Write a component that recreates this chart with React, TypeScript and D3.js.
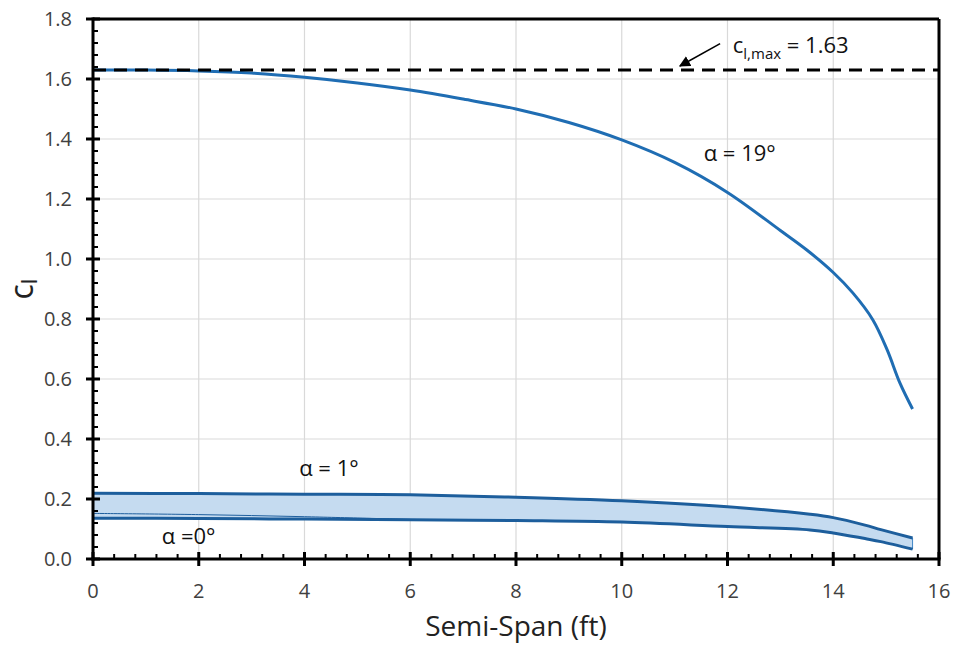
import React from "react";
import * as d3 from "d3";

const xTicks = [0, 2, 4, 6, 8, 10, 12, 14, 16];
const yTicks = [0, 0.2, 0.4, 0.6, 0.8, 1.0, 1.2, 1.4, 1.6, 1.8];

const a19X = [0, 1, 2, 3, 4, 5, 6, 7, 8, 9, 10, 11, 12, 13, 13.5, 14, 14.37, 14.75, 15.02, 15.26, 15.5];
const a19Y = [1.63, 1.63, 1.627, 1.62, 1.606, 1.587, 1.563, 1.533, 1.5, 1.455, 1.397, 1.322, 1.222, 1.095, 1.03, 0.955, 0.887, 0.797, 0.697, 0.587, 0.5];

const bandX = [0, 2, 4, 6, 8, 10, 12, 13.56, 14, 14.6, 14.9, 15.5];
const a1Y = [0.219, 0.218, 0.216, 0.214, 0.206, 0.194, 0.174, 0.149, 0.138, 0.113, 0.098, 0.07];
const a0Y = [0.136, 0.135, 0.133, 0.131, 0.128, 0.123, 0.108, 0.097, 0.087, 0.068, 0.058, 0.033];

const thinX = [0, 2, 4, 6];
const thinY = [0.152, 0.148, 0.141, 0.132];

const clMax = 1.63;

const W = 954;
const H = 647;
const M = { left: 93, right: 939, top: 19, bottom: 559 };
const FONT = "'Open Sans', sans-serif";

export default function App() {
  const x = d3.scaleLinear().domain([0, 16]).range([M.left, M.right]);
  const y = d3.scaleLinear().domain([0, 1.8]).range([M.bottom, M.top]);

  const line = d3
    .line<[number, number]>()
    .x((d) => x(d[0]))
    .y((d) => y(d[1]))
    .curve(d3.curveCatmullRom.alpha(0.5));

  const a19 = a19X.map((v, i) => [v, a19Y[i]] as [number, number]);
  const a1 = bandX.map((v, i) => [v, a1Y[i]] as [number, number]);
  const a0 = bandX.map((v, i) => [v, a0Y[i]] as [number, number]);
  const thin = thinX.map((v, i) => [v, thinY[i]] as [number, number]);

  const area = d3
    .area<number>()
    .x((_, i) => x(bandX[i]))
    .y0((_, i) => y(a0Y[i]))
    .y1((_, i) => y(a1Y[i]))
    .curve(d3.curveCatmullRom.alpha(0.5));

  const xMinor = d3.range(0, 16.001, 0.4).filter((v) => Math.abs(v / 2 - Math.round(v / 2)) > 1e-6);
  const yMinor = d3.range(0, 1.8001, 0.04).filter((v) => Math.abs(v / 0.2 - Math.round(v / 0.2)) > 1e-6);

  const ax1 = x(11.1), ay1 = y(clMax) - 4;
  const ax0 = x(11.86), ay0 = y(1.718);

  return (
    <svg width={W} height={H} style={{ position: "absolute", left: 0, top: 0, background: "#fff" }} fontFamily={FONT}>
      <defs>
        <marker id="arr" viewBox="0 0 10 10" refX="9" refY="5" markerWidth="7" markerHeight="7" orient="auto-start-reverse">
          <path d="M0,0 L10,5 L0,10 z" fill="#000" />
        </marker>
      </defs>
      {/* grid */}
      {xTicks.slice(1, -1).map((t) => (
        <line key={"gx" + t} x1={x(t)} x2={x(t)} y1={M.top} y2={M.bottom} stroke="#d9d9d9" strokeWidth={1.2} />
      ))}
      {yTicks.slice(1, -1).map((t) => (
        <line key={"gy" + t} x1={M.left} x2={M.right} y1={y(t)} y2={y(t)} stroke="#d9d9d9" strokeWidth={1.2} />
      ))}

      {/* band */}
      <path d={area(bandX) || ""} fill="#c5dbf0" stroke="#3f86c6" strokeWidth={1} />
      <path d={line(thin) || ""} fill="none" stroke="#1f5f9e" strokeWidth={1} />
      <path d={line(a1) || ""} fill="none" stroke="#1d5e9c" strokeWidth={3} />
      <path d={line(a0) || ""} fill="none" stroke="#1d5e9c" strokeWidth={3} />

      {/* alpha 19 */}
      <path d={line(a19) || ""} fill="none" stroke="#1f6db3" strokeWidth={3} />

      {/* cl max dashed */}
      <line x1={M.left} x2={M.right} y1={y(clMax)} y2={y(clMax)} stroke="#000" strokeWidth={3} strokeDasharray="13 8" />
      <line x1={ax0} y1={ay0} x2={ax1} y2={ay1} stroke="#000" strokeWidth={1.6} markerEnd="url(#arr)" />
      <text x={x(12.1)} y={53} fontSize={22} fill="#111">
        c
        <tspan fontSize={15} dy={6}>l,max</tspan>
        <tspan dy={-6}> = 1.63</tspan>
      </text>

      {/* labels */}
      <text x={x(11.55)} y={161} fontSize={22} fill="#111">α = 19°</text>
      <text x={x(3.9)} y={476} fontSize={22} fill="#111">α = 1°</text>
      <text x={x(1.3)} y={544} fontSize={22} fill="#111">α =0°</text>

      {/* frame */}
      <line x1={M.left} x2={M.right} y1={M.top} y2={M.top} stroke="#000" strokeWidth={3} />
      <line x1={M.right} x2={M.right} y1={M.top} y2={M.bottom} stroke="#000" strokeWidth={3} />
      <line x1={M.left} x2={M.left} y1={M.top - 1.5} y2={M.bottom + 1.5} stroke="#000" strokeWidth={3} />
      <line x1={M.left - 1.5} x2={M.right + 1.5} y1={M.bottom} y2={M.bottom} stroke="#000" strokeWidth={3} />

      {/* ticks */}
      {yTicks.map((t) => (
        <line key={"ty" + t} x1={M.left - 7} x2={M.left + 7} y1={y(t)} y2={y(t)} stroke="#000" strokeWidth={3} />
      ))}
      {yMinor.map((t) => (
        <line key={"tym" + t} x1={M.left} x2={M.left + 5} y1={y(t)} y2={y(t)} stroke="#000" strokeWidth={2} />
      ))}
      {xTicks.map((t) => (
        <line key={"tx" + t} x1={x(t)} x2={x(t)} y1={M.bottom - 7} y2={M.bottom + 7} stroke="#000" strokeWidth={3} />
      ))}
      {xMinor.map((t) => (
        <line key={"txm" + t} x1={x(t)} x2={x(t)} y1={M.bottom - 5} y2={M.bottom} stroke="#000" strokeWidth={2} />
      ))}

      {/* tick labels */}
      {yTicks.map((t) => (
        <text key={"ly" + t} x={72} y={y(t) + 7} fontSize={20} textAnchor="end" fill="#404040">
          {t.toFixed(1)}
        </text>
      ))}
      {xTicks.map((t) => (
        <text key={"lx" + t} x={x(t)} y={598} fontSize={20} textAnchor="middle" fill="#404040">
          {t}
        </text>
      ))}

      {/* axis titles */}
      <text x={(M.left + M.right) / 2} y={636} fontSize={28} textAnchor="middle" fill="#222">
        Semi-Span (ft)
      </text>
      <text transform={`translate(33, ${(M.top + M.bottom) / 2}) rotate(-90)`} fontSize={32} textAnchor="middle" fill="#222">
        c<tspan fontSize={22} dy={4}>l</tspan>
      </text>
    </svg>
  );
}
